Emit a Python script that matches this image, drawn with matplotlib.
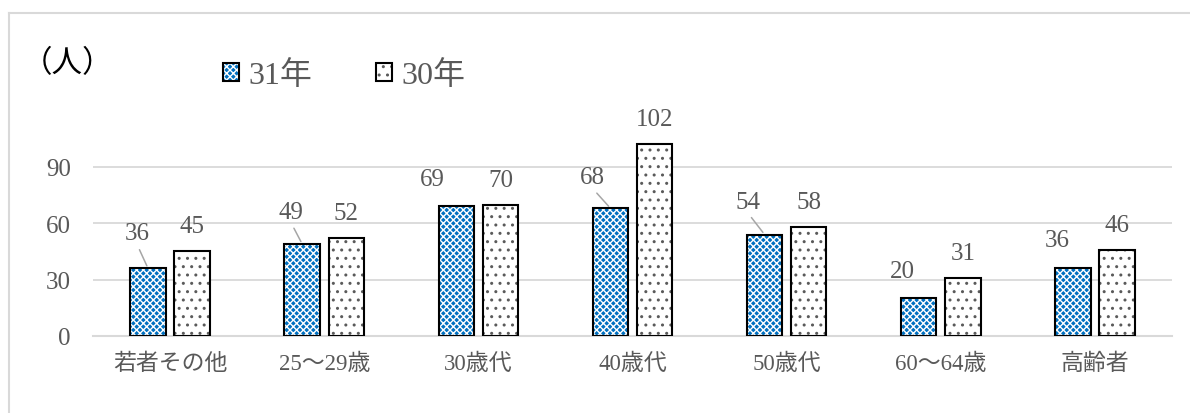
import matplotlib
matplotlib.use("Agg")
import matplotlib.pyplot as plt
from matplotlib.patches import Patch
from matplotlib.legend_handler import HandlerTuple
from matplotlib.lines import Line2D
import numpy as np

plt.rcParams['font.family'] = ['Liberation Serif', 'Noto Sans CJK JP', 'DejaVu Sans']
plt.rcParams['hatch.linewidth'] = 1.0

# ---- data -------------------------------------------------------------
categories = ['若者その他', '25〜29歳', '30歳代', '40歳代', '50歳代', '60〜64歳', '高齢者']
series_names = ['31年', '30年']
values_31 = [36, 49, 69, 68, 54, 20, 36]
values_30 = [45, 52, 70, 102, 58, 31, 46]
y_ticks = [0, 30, 60, 90]

# ---- label placement (pixel offsets from the top centre of each bar) ----
label_off_31 = [(-11, 35), (-11, 32), (-24, 27), (-18, 31), (-17, 33), (-16, 27), (-16, 28)]
leader_31 = [True, True, False, True, True, False, False]
label_off_30 = (0, 25)

BLUE = '#0070c0'
GRID = '#d9d9d9'
TEXT = '#595959'
HATCH_31 = 'xxxxx'
HATCH_30 = '..'

W, H = 1190, 414
fig = plt.figure(figsize=(W / 100, H / 100), dpi=100)
ax = fig.add_axes([93 / W, 77 / H, 1079 / W, 237 / H])

x = np.arange(len(categories))
bw = 0.23
off = 0.143

# hatched fills
ax.bar(x - off, values_31, bw, color=BLUE, edgecolor='white', hatch=HATCH_31, linewidth=0, zorder=2)
ax.bar(x + off, values_30, bw, color='white', edgecolor='#5a5a5a', hatch=HATCH_30, linewidth=0, zorder=2)
# outlines
ax.bar(x - off, values_31, bw, fill=False, edgecolor='black', linewidth=1.5, zorder=3)
ax.bar(x + off, values_30, bw, fill=False, edgecolor='black', linewidth=1.5, zorder=3)

ax.set_xlim(-0.5, len(categories) - 0.5)
ax.set_ylim(0, 126.2)
ax.set_yticks(y_ticks)
ax.set_xticks(x)
ax.set_xticklabels(categories, fontsize=16.5, color=TEXT)
ax.tick_params(axis='y', length=0, pad=16, labelsize=18, labelcolor=TEXT)
ax.tick_params(axis='x', length=0, pad=12)

ax.grid(axis='y', color=GRID, linewidth=1.3, zorder=0)
ax.set_axisbelow(True)
for s in ['top', 'right', 'left']:
    ax.spines[s].set_visible(False)
ax.spines['bottom'].set_color(GRID)
ax.spines['bottom'].set_linewidth(1.5)
ax.patch.set_alpha(0)

LABEL_FS = 18
# value labels
for xi, v, (dx, dy), lead in zip(x - off, values_31, label_off_31, leader_31):
    if lead:
        ax.annotate(str(v), xy=(xi, v), xytext=(dx, dy), textcoords='offset pixels',
                    ha='center', va='center', fontsize=LABEL_FS, color=TEXT,
                    arrowprops=dict(arrowstyle='-', color='#a6a6a6', lw=1.1,
                                    relpos=(0.5, 0.0), shrinkA=2, shrinkB=2))
    else:
        ax.annotate(str(v), xy=(xi, v), xytext=(dx, dy), textcoords='offset pixels',
                    ha='center', va='center', fontsize=LABEL_FS, color=TEXT)
for xi, v in zip(x + off, values_30):
    ax.annotate(str(v), xy=(xi, v), xytext=label_off_30, textcoords='offset pixels',
                ha='center', va='center', fontsize=LABEL_FS, color=TEXT)

# unit label
fig.text(22 / W, 1 - 64 / H, '（人）', fontsize=22, color='black', ha='left', va='center',
         family=['Noto Sans CJK JP', 'DejaVu Sans'])

# legend
h31 = (Patch(facecolor=BLUE, edgecolor='white', hatch=HATCH_31, linewidth=0),
       Patch(fill=False, edgecolor='black', linewidth=1.5))
h30 = (Patch(facecolor='white', edgecolor='#5a5a5a', hatch=HATCH_30, linewidth=0),
       Patch(fill=False, edgecolor='black', linewidth=1.5))
leg = fig.legend([h31, h30], series_names, handler_map={tuple: HandlerTuple(ndivide=1)},
                 loc='center left', bbox_to_anchor=(223 / W, 1 - 76 / H), ncol=2,
                 frameon=False, borderpad=0, borderaxespad=0, fontsize=23,
                 handlelength=0.5, handleheight=0.5, handletextpad=0.3,
                 columnspacing=2.0, labelcolor=TEXT)

# chart border
fig.add_artist(Line2D([9 / W, 1], [1 - 14 / H, 1 - 14 / H], color=GRID, lw=1.5))
fig.add_artist(Line2D([9 / W, 9 / W], [0, 1 - 14 / H], color=GRID, lw=1.5))

fig.savefig('out.png', dpi=100)
